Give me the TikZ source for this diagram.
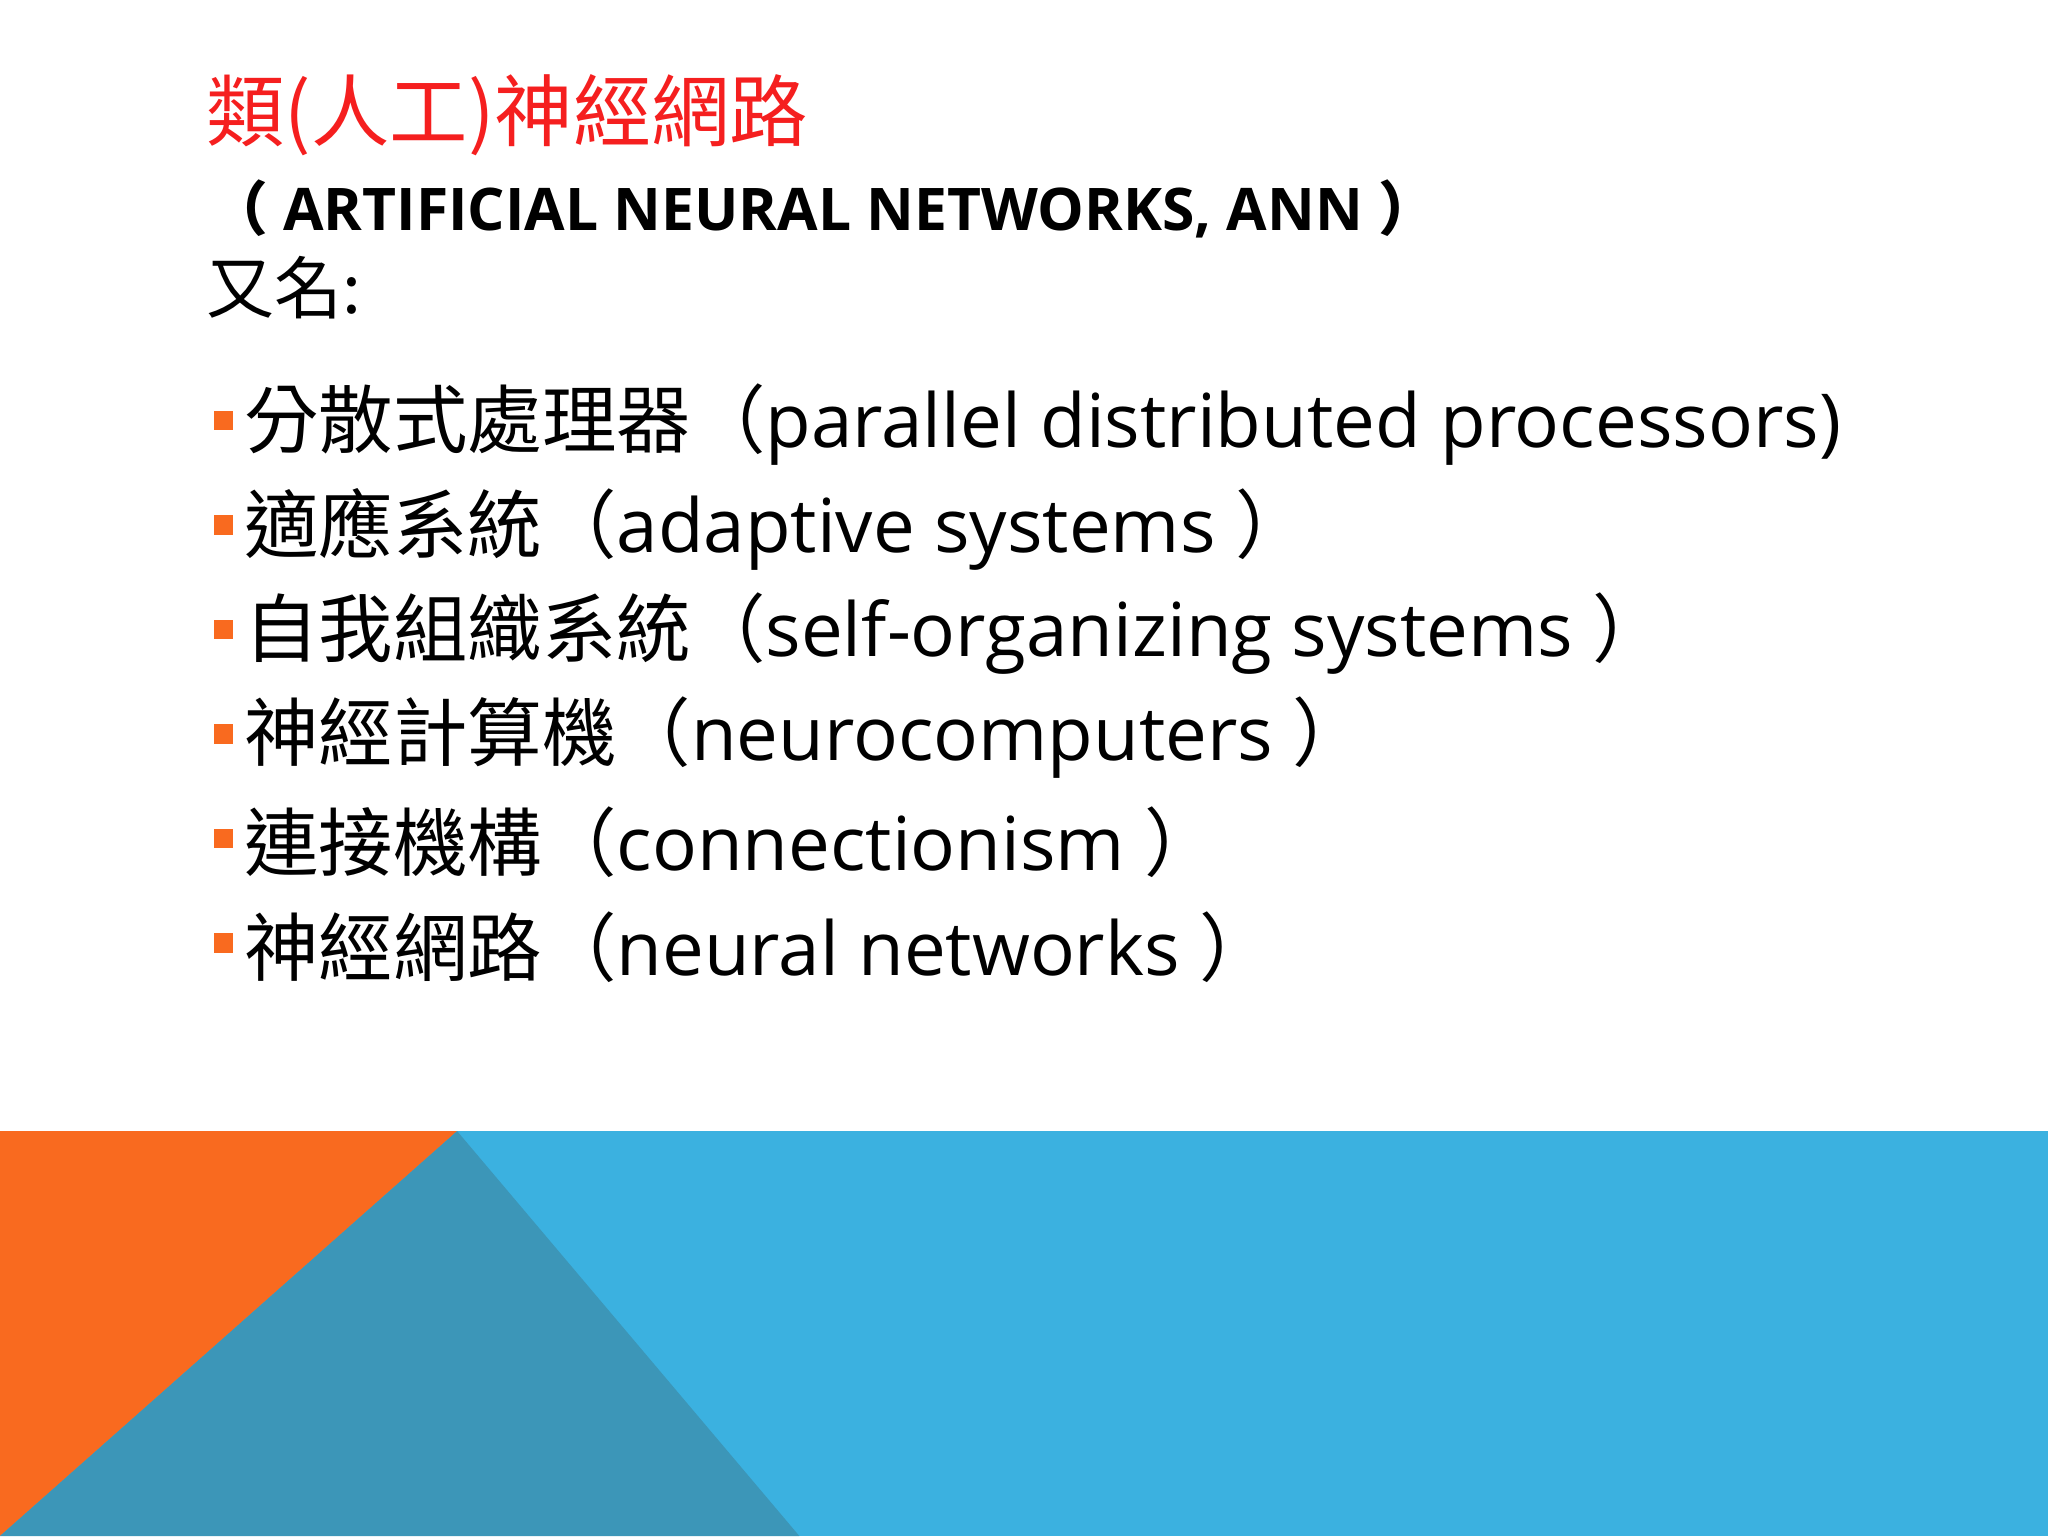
\documentclass[tikz,border=0pt]{standalone}
\usepackage{fontspec}
\setmainfont{Open Sans}
\newfontfamily\cjk{Noto Sans CJK TC}
\newfontfamily\latn{Open Sans}
\definecolor{sorange}{HTML}{F96A1F}
\definecolor{sblue}{HTML}{3BB1E0}
\definecolor{sdark}{HTML}{3C96B8}
\definecolor{tred}{HTML}{F51F1F}
\tikzset{
 bul/.style={fill=sorange,minimum size=15pt,inner sep=0pt},
 item/.style={anchor=west,inner sep=0pt,font=\fontsize{57}{60}\selectfont},
}
\begin{document}
\begin{tikzpicture}[x=1pt,y=-1pt]
\useasboundingbox (0,0) rectangle (1568,1176);
\fill[white] (0,0) rectangle (1568,1176);
\fill[sblue] (0,866) rectangle (1568,1176);
\fill[sorange] (0,866) -- (350,866) -- (0,1176) -- cycle;
\fill[sdark] (350,866) -- (612,1176) -- (0,1176) -- cycle;
\node[anchor=west,inner sep=0pt,text=tred,font=\fontsize{60}{64}\selectfont] (t1) at (158,88) {\cjk 類(人工)神經網路};
\node[anchor=west,inner sep=0pt,font=\fontsize{45}{48}\bfseries\selectfont] (t2) at (160,160) {\cjk （\latn\ ARTIFICIAL NEURAL NETWORKS, ANN \cjk ）};
\node[anchor=west,inner sep=0pt,font=\fontsize{52}{54}\selectfont] (t3) at (158,220) {\cjk 又名:};
\foreach \i/\t in {0/{分散式處理器（\latn parallel distributed processors)},
 1/{適應系統（\latn adaptive systems\ \cjk ）},
 2/{自我組織系統（\latn self-organizing systems\ \cjk ）},
 3/{神經計算機（\latn neurocomputers\ \cjk ）},
 4/{連接機構（\latn connectionism\ \cjk ）},
 5/{神經網路（\latn neural networks\ \cjk ）}}{
 \node[bul] (b\i) at (171,{322+80*\i}) {};
 \node[item] (i\i) at (187,{325+80*\i}) {\cjk \t};
}
\end{tikzpicture}
\end{document}
